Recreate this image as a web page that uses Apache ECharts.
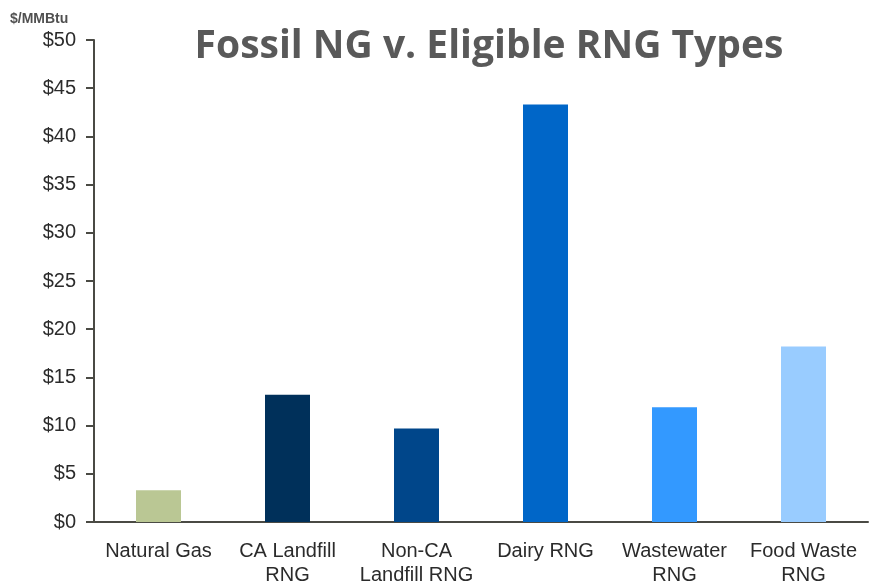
<!DOCTYPE html>
<html>
<head>
<meta charset="utf-8">
<script src="https://cdn.jsdelivr.net/npm/echarts@6/dist/echarts.min.js"></script>
<style>
    html, body { margin: 0; padding: 0; background: #fff; }
    #chart { width: 879px; height: 585px; }
</style>
</head>
<body>
<div id="chart"></div>
<script>
'use strict';

var categories = ['Natural Gas', 'CA Landfill\nRNG', 'Non-CA\nLandfill RNG', 'Dairy RNG', 'Wastewater\nRNG', 'Food Waste\nRNG'];
var costs = [3.3, 13.2, 9.7, 43.3, 11.9, 18.2];
var barColors = ['#bac794', '#00305a', '#00468a', '#0066c8', '#3399ff', '#99ccff'];
var yTicks = [0, 5, 10, 15, 20, 25, 30, 35, 40, 45, 50];

var chart = echarts.init(document.getElementById('chart'));

var option = {
    animation: false,
    backgroundColor: '#fff',
    textStyle: { fontFamily: 'Liberation Sans, Arial, sans-serif' },
    title: [
        {
            text: 'Fossil NG v. Eligible RNG Types',
            left: 484,
            top: 22,
            textAlign: 'center',
            textStyle: {
                fontFamily: 'Open Sans',
                fontWeight: 'bold',
                fontSize: 39,
                color: '#595959'
            }
        },
        {
            text: '$/MMBtu',
            left: 5,
            top: 7,
            textStyle: {
                fontFamily: 'Liberation Sans',
                fontWeight: 'bold',
                fontSize: 14,
                color: '#505050'
            }
        }
    ],
    grid: {
        left: 94,
        right: 11,
        top: 40,
        bottom: 63,
        outerBoundsMode: 'none'
    },
    xAxis: {
        type: 'category',
        data: categories,
        axisLine: { lineStyle: { color: '#4a4a44', width: 2 } },
        axisTick: { show: false },
        axisLabel: {
            interval: 0,
            margin: 17,
            fontSize: 20,
            lineHeight: 24,
            color: '#2b2b2b'
        }
    },
    yAxis: {
        type: 'value',
        min: yTicks[0],
        max: yTicks[yTicks.length - 1],
        interval: 5,
        splitLine: { show: false },
        axisLine: { show: true, lineStyle: { color: '#4a4a44', width: 2 } },
        axisTick: { show: true, length: 8, lineStyle: { color: '#4a4a44', width: 2 } },
        axisLabel: {
            margin: 18,
            fontSize: 20,
            color: '#2b2b2b',
            formatter: function (v) { return '$' + v; }
        }
    },
    series: [
        {
            type: 'bar',
            barWidth: 45,
            data: costs.map(function (v, i) {
                return { value: v, itemStyle: { color: barColors[i] } };
            })
        }
    ]
};

chart.setOption(option);
</script>
</body>
</html>
